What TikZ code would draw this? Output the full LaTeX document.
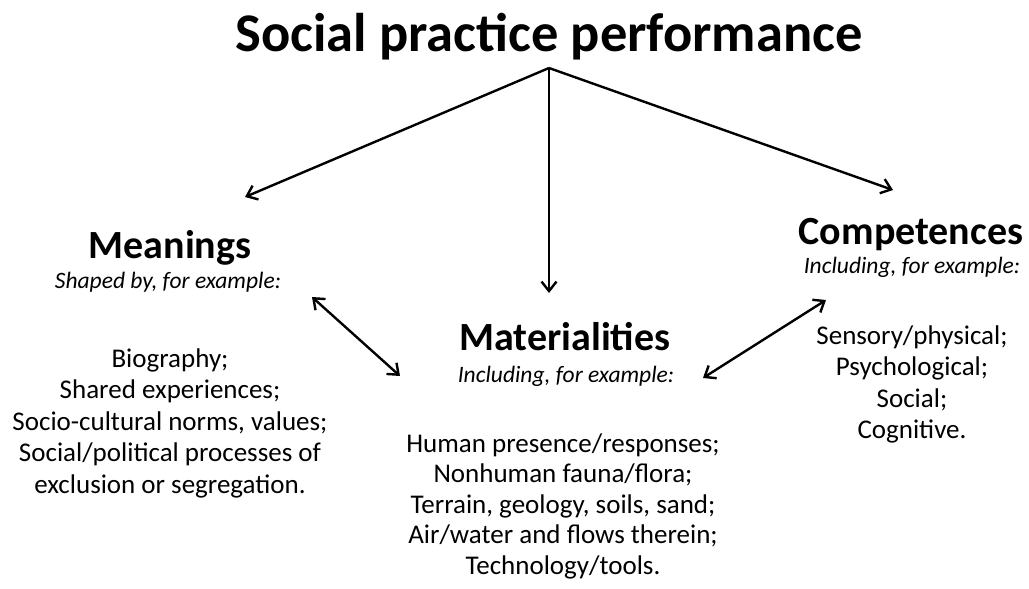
\documentclass[tikz,border=0pt]{standalone}
\usepackage{fontspec}
\setmainfont{Carlito}
\usetikzlibrary{arrows.meta}
\begin{document}
\begin{tikzpicture}[x=1pt,y=-1pt,
  tip/.tip={Straight Barb[length=9.5pt,width=15pt,line width=2.4pt]},
  conn/.style={line width=2.4pt,-tip},
  dconn/.style={line width=2.4pt,tip-tip},
  head/.style={font=\fontsize{40}{44}\selectfont\bfseries,inner sep=0pt,anchor=base},
  sub/.style={font=\fontsize{23.5}{26}\selectfont\itshape,inner sep=0pt,anchor=base},
  body/.style={font=\fontsize{27}{30}\selectfont,inner sep=0pt,anchor=base}]
\useasboundingbox (0,0) rectangle (1029,589);
\node[font=\fontsize{54.5}{58}\selectfont\bfseries,inner sep=0pt,anchor=base] (title) at (549,51) {Social practice performance};
\coordinate (apex) at (549,68);
% Meanings
\node[head] (mean) at (170,258) {Meanings};
\node[sub] (meansub) at (168,288) {Shaped by, for example:};
\node[body] (m1) at (170,367) {Biography;};
\node[body] (m2) at (170,398.5) {Shared experiences;};
\node[body] (m3) at (170,430) {Socio-cultural norms, values;};
\node[body] (m4) at (170,461.5) {Social/political processes of};
\node[body] (m5) at (170,493) {exclusion or segregation.};
% Materialities
\node[head] (mat) at (565,350) {Materialities};
\node[sub] (matsub) at (566,382) {Including, for example:};
\node[body] (t1) at (563,452) {Human presence/responses;};
\node[body] (t2) at (563,482.5) {Nonhuman fauna/flora;};
\node[body] (t3) at (563,513) {Terrain, geology, soils, sand;};
\node[body] (t4) at (563,543.5) {Air/water and flows therein;};
\node[body] (t5) at (563,574) {Technology/tools.};
% Competences
\node[head] (comp) at (911,244) {Competences};
\node[sub] (compsub) at (912,273) {Including, for example:};
\node[body] (c1) at (912,344) {Sensory/physical;};
\node[body] (c2) at (912,375.5) {Psychological;};
\node[body] (c3) at (912,407) {Social;};
\node[body] (c4) at (912,438.5) {Cognitive.};
% connectors
\coordinate (lt) at (245,197);
\coordinate (mt) at (549,293);
\coordinate (rt) at (893,190);
\draw[conn] (apex) -- (lt);
\draw[conn] (apex) -- (mt);
\draw[conn] (apex) -- (rt);
\coordinate (la) at (312,297);
\coordinate (lb) at (400,376);
\coordinate (ra) at (826,300);
\coordinate (rb) at (703,378);
\draw[dconn] (la) -- (lb);
\draw[dconn] (ra) -- (rb);
\end{tikzpicture}
\end{document}
